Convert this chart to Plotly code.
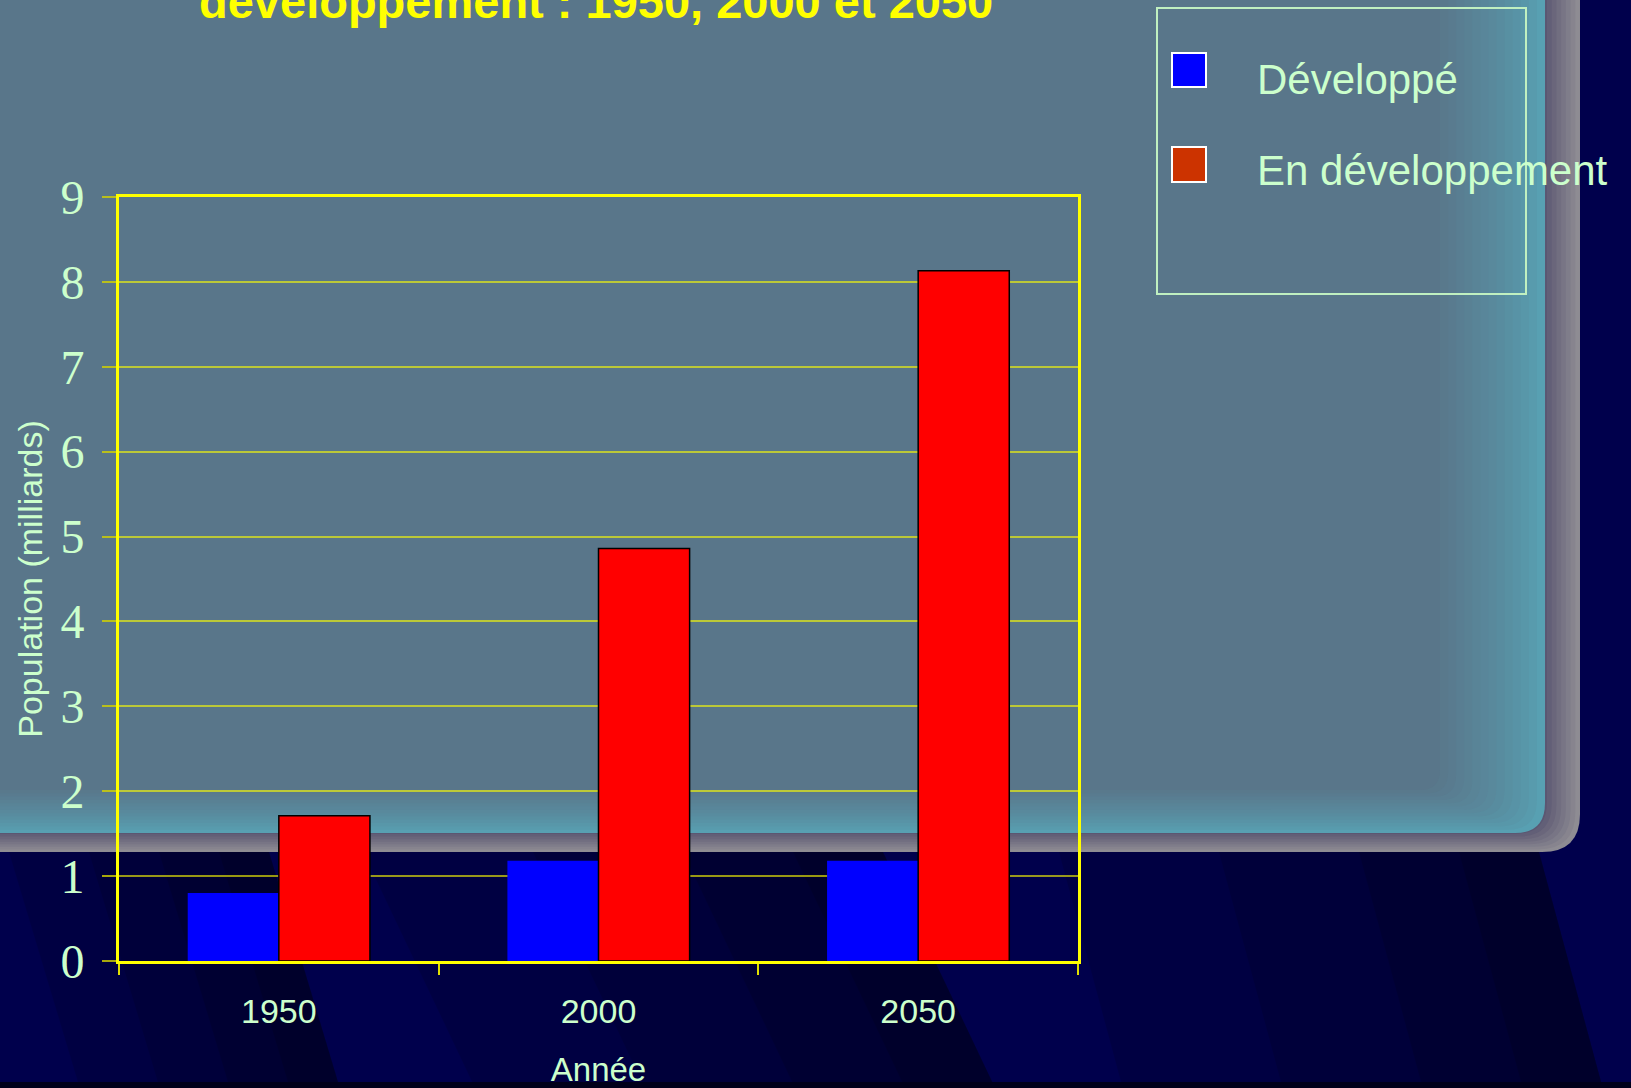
import plotly.graph_objects as go

# ---------------- data ----------------
years = ["1950", "2000", "2050"]
developpe = [0.80, 1.18, 1.18]
en_developpement = [1.71, 4.86, 8.13]
y_ticks = [0, 1, 2, 3, 4, 5, 6, 7, 8, 9]
series_names = ["Développé", "En développement"]
title_text = "développement : 1950, 2000 et 2050"
x_title = "Année"
y_title = "Population (milliards)"

# ---------------- geometry helpers ----------------
W, H = 1631, 1088
L, R, T, B = 119, 1078, 197, 961


def px(x):
    return (x - L) / (R - L)


def py(y):
    return (B - y) / (B - T)


def path(points):
    return "M " + " L ".join(f"{px(x):.5f},{py(y):.5f}" for x, y in points) + " Z"


def rounded_panel(x1, y1, r):
    return (f"M {px(-30):.5f},{py(-30):.5f} L {px(x1):.5f},{py(-30):.5f} "
            f"L {px(x1):.5f},{py(y1 - r):.5f} Q {px(x1):.5f},{py(y1):.5f} {px(x1 - r):.5f},{py(y1):.5f} "
            f"L {px(-30):.5f},{py(y1):.5f} Z")


def hex2rgb(h):
    h = h.lstrip("#")
    return tuple(int(h[i:i + 2], 16) for i in (0, 2, 4))


def lerp_col(c1, c2, t):
    a, b = hex2rgb(c1), hex2rgb(c2)
    return "#%02x%02x%02x" % tuple(round(a[i] + (b[i] - a[i]) * t) for i in range(3))


shapes = []

# darker perspective wedges on the navy floor
edges = [(269, 0.30, [260, 180, 110, 50]),
         (883, 0.475, [520, 350, 200, 90]),
         (1539, 0.27, [480, 320, 180, 80])]
for x0, s, widths in edges:
    xa = x0
    xb = x0 + s * (1095 - 852)
    for w in widths:
        shapes.append(dict(type="path", xref="paper", yref="paper", layer="below",
                           path=path([(xa - w, 852), (xa, 852), (xb, 1095), (xb - w, 1095)]),
                           fillcolor="rgba(0,0,0,0.12)", line=dict(width=0)))

# dark strip along bottom
shapes.append(dict(type="rect", xref="paper", yref="paper", layer="below",
                   x0=px(-10), x1=px(W + 10), y0=py(1082), y1=py(H + 10),
                   fillcolor="#00001a", line=dict(width=0)))

# slate panel: shadow band (grey -> purple-grey) then teal glow -> slate, rounded corner
n1 = 8
for i in range(n1):
    t = i / (n1 - 1)
    x1 = 1580 - t * (1580 - 1547)
    y1 = 852 - t * (852 - 834)
    col = lerp_col("#8e8c93", "#5b5772", t)
    shapes.append(dict(type="path", xref="paper", yref="paper", layer="below",
                       path=rounded_panel(x1, y1, 38 - 6 * t), fillcolor=col, line=dict(width=0)))
n2 = 14
for i in range(n2):
    t = i / (n2 - 1)
    x1 = 1545 - t * (1545 - 1440)
    y1 = 833 - t * (833 - 790)
    col = lerp_col("#58a0b2", "#59768a", t ** 0.8)
    shapes.append(dict(type="path", xref="paper", yref="paper", layer="below",
                       path=rounded_panel(x1, y1, 30 - 10 * t), fillcolor=col, line=dict(width=0)))

# legend box and swatches
shapes.append(dict(type="rect", xref="paper", yref="paper", layer="above",
                   x0=px(1157), x1=px(1526), y0=py(294), y1=py(8),
                   fillcolor="rgba(0,0,0,0)", line=dict(color="#c0f0c0", width=2)))
swatches = [("#0000ff", 53, 87), ("#cc3300", 147, 182)]
for col, ya, yb in swatches:
    shapes.append(dict(type="rect", xref="paper", yref="paper", layer="above",
                       x0=px(1172), x1=px(1206), y0=py(yb), y1=py(ya),
                       fillcolor=col, line=dict(color="#ffffff", width=2)))

# ---------------- figure ----------------
fig = go.Figure()
fig.add_trace(go.Bar(x=years, y=developpe, name=series_names[0],
                     marker=dict(color="#0000ff", line=dict(width=0))))
fig.add_trace(go.Bar(x=years, y=en_developpement, name=series_names[1],
                     marker=dict(color="#ff0000", line=dict(color="#000000", width=1.5))))

txt = "#ccffcc"
annotations = [
    dict(text=f"<b>{title_text}</b>", xref="paper", yref="paper", x=px(596), y=py(1),
         xanchor="center", yanchor="middle", showarrow=False,
         font=dict(family="Liberation Sans, Arial", size=47, color="#ffff00")),
    dict(text=series_names[0], xref="paper", yref="paper", x=px(1255), y=py(79.5),
         xanchor="left", yanchor="middle", showarrow=False,
         font=dict(family="Liberation Sans, Arial", size=42, color=txt)),
    dict(text=series_names[1], xref="paper", yref="paper", x=px(1255), y=py(170.5),
         xanchor="left", yanchor="middle", showarrow=False,
         font=dict(family="Liberation Sans, Arial", size=42, color=txt)),
]

fig.update_layout(
    width=W, height=H,
    margin=dict(l=L, r=W - R, t=T, b=H - B, pad=0, autoexpand=False),
    paper_bgcolor="#00004c",
    plot_bgcolor="rgba(0,0,0,0)",
    barmode="group", bargap=0.43, bargroupgap=0,
    showlegend=False,
    shapes=shapes,
    annotations=annotations,
    xaxis=dict(type="category", showline=True, linecolor="#ffff00", linewidth=3, mirror=True,
               ticks="outside", tickson="boundaries", ticklen=11, tickwidth=1.5, tickcolor="#e0e000",
               showgrid=False, ticklabelstandoff=18, automargin=False,
               tickfont=dict(family="Liberation Sans, Arial", size=34, color=txt),
               title=dict(text=x_title, standoff=30,
                          font=dict(family="Liberation Sans, Arial", size=33, color=txt))),
    yaxis=dict(range=[0, 9], tickvals=y_ticks, showline=True, linecolor="#ffff00", linewidth=3,
               mirror=True, ticks="outside", ticklen=14, tickwidth=1.5, tickcolor="rgba(210,210,0,0.8)",
               gridcolor="rgba(255,255,0,0.6)", gridwidth=1.5, zeroline=False, ticklabelstandoff=8,
               automargin=False,
               tickfont=dict(family="Liberation Serif, Times New Roman", size=48, color=txt),
               title=dict(text=y_title, standoff=8,
                          font=dict(family="Liberation Sans, Arial", size=34, color=txt))),
)

fig.write_html("out.html", config={"displayModeBar": False},
               post_script="document.body.style.margin='0';document.body.style.overflow='hidden';")
